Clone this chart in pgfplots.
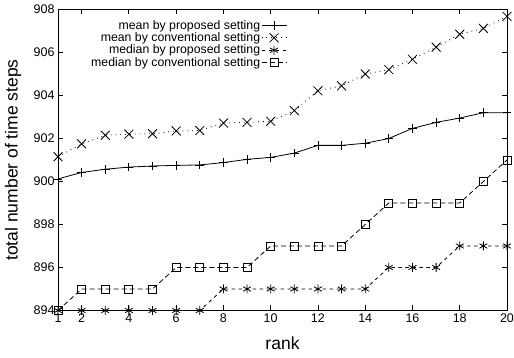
\documentclass[border=0pt]{standalone}
\usepackage{fontspec}
\setmainfont{Liberation Sans}
\usepackage{pgfplots}
\pgfplotsset{compat=1.18}
\usetikzlibrary{calc}
\begin{document}
\begin{tikzpicture}
\begin{axis}[
  name=ax,
  scale only axis,
  width=449pt, height=301pt,
  xmin=1, xmax=20, ymin=894, ymax=908,
  xtick={1,2,4,6,8,10,12,14,16,18,20},
  ytick={894,896,...,908},
  tick align=inside,
  major tick length=5pt,
  axis line style={line width=0.9pt},
  every tick/.style={black, line width=0.8pt},
  /pgf/number format/assume math mode=true,
  /pgf/number format/1000 sep={},
  tick label style={font=\fontsize{12.5}{14}\selectfont},
  xlabel={rank},
  ylabel={total number of time steps},
  every axis x label/.style={at={(axis description cs:0.5,0)}, anchor=center, yshift=-33pt, font=\fontsize{17.5}{20}\selectfont},
  every axis y label/.style={at={(axis description cs:0,0.5)}, xshift=-45pt, rotate=90, anchor=center, font=\fontsize{17.5}{20}\selectfont},
  clip=false,
  legend style={at={(axis description cs:0.517,0.975)}, anchor=north east, draw=none, fill=none,
    font=\fontsize{12.3}{13.5}\selectfont, row sep=0pt, nodes={inner sep=1pt}},
  legend cell align=right,
  legend plot pos=right,
  legend image code/.code={\draw[mark repeat=2,mark phase=2] plot coordinates {(0pt,0pt) (12.5pt,0pt) (25pt,0pt)};},
]
\addplot[black, line width=0.8pt, mark=+, mark size=4.3pt, mark options={solid, line width=0.8pt}] coordinates {
(1,900.12) (2,900.42) (3,900.57) (4,900.67) (5,900.72) (6,900.75) (7,900.77) (8,900.88) (9,901.03) (10,901.12)
(11,901.32) (12,901.68) (13,901.68) (14,901.78) (15,902.0) (16,902.47) (17,902.75) (18,902.95) (19,903.2) (20,903.2)};
\addlegendentry{mean by proposed setting}
\addplot[black, line width=0.8pt, dash pattern=on 0.8pt off 4pt, mark=x, mark size=6.3pt, mark options={solid, line width=0.8pt}] coordinates {
(1,901.15) (2,901.75) (3,902.15) (4,902.2) (5,902.22) (6,902.35) (7,902.37) (8,902.72) (9,902.75) (10,902.8)
(11,903.3) (12,904.22) (13,904.45) (14,905.0) (15,905.2) (16,905.68) (17,906.25) (18,906.85) (19,907.12) (20,907.68)};
\addlegendentry{mean by conventional setting}
\addplot[black, line width=0.8pt, dash pattern=on 3.5pt off 3.5pt, mark=asterisk, mark size=4.5pt, mark options={solid, line width=0.8pt}] coordinates {
(1,894) (2,894) (3,894) (4,894) (5,894) (6,894) (7,894) (8,895) (9,895) (10,895)
(11,895) (12,895) (13,895) (14,895) (15,896) (16,896) (17,896) (18,897) (19,897) (20,897)};
\addlegendentry{median by proposed setting}
\addplot[black, line width=0.8pt, dash pattern=on 5pt off 3pt, mark=square, mark size=4pt, mark options={solid, line width=0.8pt}] coordinates {
(1,894) (2,895) (3,895) (4,895) (5,895) (6,896) (7,896) (8,896) (9,896) (10,897)
(11,897) (12,897) (13,897) (14,898) (15,899) (16,899) (17,899) (18,899) (19,900) (20,901)};
\addlegendentry{median by conventional setting}
\end{axis}
\pgfresetboundingbox
\path[use as bounding box] ($(ax.south west)+(-58pt,-47.5pt)$) rectangle ($(ax.north east)+(7pt,9.5pt)$);
\end{tikzpicture}
\end{document}
